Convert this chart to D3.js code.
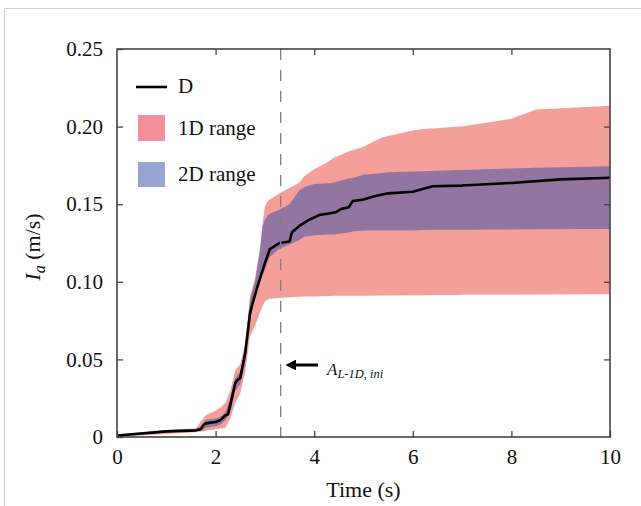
<!DOCTYPE html>
<html><head><meta charset="utf-8">
<script src="https://cdn.jsdelivr.net/npm/d3@7"></script>
<style>body{margin:0;background:#fff}svg{display:block}
svg text{font-family:"Liberation Serif","Times New Roman",Tinos,"DejaVu Serif",serif;}</style>
</head><body>
<svg id="c" width="641" height="506"></svg>
<script>
// ---- data ----
const xTicks = [0, 2, 4, 6, 8, 10];
const yTicks = [0, 0.05, 0.10, 0.15, 0.20, 0.25];
const yTickLabels = ["0", "0.05", "0.10", "0.15", "0.20", "0.25"];

const dTime = [0,1,1.6,1.7,1.75,1.8,2.0,2.1,2.2,2.25,2.3,2.4,2.45,2.5,2.6,2.7,2.75,2.85,3.0,3.1,3.3,3.5,3.55,3.7,3.9,4.1,4.3,4.45,4.55,4.7,4.78,5.0,5.2,5.5,6.0,6.4,7.0,8.0,9.0,10];
const dVal  = [0.001,0.0036,0.0043,0.005,0.0075,0.0088,0.0097,0.011,0.014,0.0145,0.021,0.035,0.037,0.038,0.054,0.080,0.086,0.097,0.112,0.121,0.125,0.126,0.132,0.136,0.140,0.143,0.144,0.145,0.147,0.148,0.152,0.153,0.155,0.157,0.158,0.1616,0.162,0.1637,0.166,0.167];

const rTime = [0,1,1.6,1.7,1.8,2.0,2.1,2.2,2.3,2.4,2.5,2.6,2.7,2.8,2.9,2.95,3.0,3.06,3.1,3.3,3.5,3.7,3.8,4.0,4.3,4.4,4.7,4.8,5.0,5.35,5.5,6.0,6.2,6.5,6.9,7.0,8.0,8.5,10];
// 1D range
const r1Lo = [0,0.002,0.003,0.0035,0.004,0.005,0.0055,0.006,0.012,0.022,0.028,0.042,0.065,0.0715,0.080,0.084,0.0875,0.0885,0.089,0.0895,0.090,0.0903,0.0905,0.0905,0.0908,0.091,0.091,0.091,0.091,0.0912,0.0912,0.0914,0.0914,0.0915,0.0915,0.0916,0.0917,0.0918,0.0919];
const r1Hi = [0.001,0.0045,0.0055,0.010,0.014,0.017,0.019,0.022,0.030,0.043,0.047,0.060,0.091,0.102,0.122,0.137,0.1487,0.152,0.153,0.157,0.1605,0.164,0.168,0.1725,0.1777,0.180,0.184,0.185,0.187,0.1927,0.194,0.1975,0.1985,0.199,0.200,0.200,0.205,0.211,0.2135];
// 2D range
const r2Lo = [0,0.003,0.0035,0.004,0.006,0.007,0.008,0.011,0.016,0.030,0.034,0.048,0.075,0.090,0.100,0.104,0.108,0.113,0.116,0.1215,0.124,0.127,0.129,0.130,0.1305,0.1305,0.1318,0.1326,0.133,0.133,0.133,0.133,0.1333,0.1335,0.1336,0.1336,0.1337,0.1338,0.134];
const r2Hi = [0.001,0.0045,0.005,0.007,0.011,0.012,0.013,0.016,0.025,0.038,0.042,0.058,0.089,0.100,0.120,0.135,0.140,0.143,0.144,0.1466,0.150,0.159,0.161,0.163,0.1635,0.164,0.1665,0.167,0.169,0.170,0.1706,0.171,0.1712,0.1715,0.172,0.172,0.173,0.1735,0.1745];

const markerTime = 3.32;

// ---- layout ----
const svg = d3.select("#c");
const L = 117, R = 610, T = 49, B = 437;
const x = d3.scaleLinear().domain([0, 10]).range([L, R]);
const y = d3.scaleLinear().domain([0, 0.25]).range([B, T]);

// outer light border
svg.append("line").attr("x1",4.5).attr("x2",641).attr("y1",8.5).attr("y2",8.5).attr("stroke","#d0d0d0");
svg.append("line").attr("x1",4.5).attr("x2",4.5).attr("y1",8.5).attr("y2",506).attr("stroke","#d0d0d0");

const defs = svg.append("defs");
defs.append("clipPath").attr("id","clip").append("rect").attr("x",L).attr("y",T).attr("width",R-L).attr("height",B-T);
const g = svg.append("g").attr("clip-path","url(#clip)");

const idx = d3.range(rTime.length);
const area1 = d3.area().x(i => x(rTime[i])).y0(i => y(r1Lo[i])).y1(i => y(r1Hi[i]));
const area2 = d3.area().x(i => x(rTime[i])).y0(i => y(r2Lo[i])).y1(i => y(r2Hi[i]));

const pink = "#f59f9a";
const blue = "rgb(50,76,168)";
g.append("path").attr("d", area1(idx)).attr("fill", pink);
g.append("path").attr("d", area2(idx)).attr("fill", blue).attr("fill-opacity", 0.5);

// dashed marker
svg.append("line").attr("x1", x(markerTime)).attr("x2", x(markerTime))
  .attr("y1", T).attr("y2", B).attr("stroke", "#808080").attr("stroke-width", 1.3)
  .attr("stroke-dasharray", "11,10");

// D line
const line = d3.line().x(i => x(dTime[i])).y(i => y(dVal[i]));
g.append("path").attr("d", line(d3.range(dTime.length))).attr("fill","none")
  .attr("stroke","#000").attr("stroke-width",2.6).attr("stroke-linejoin","round");

// axes (ticks inside)
const axStyle = sel => {
  sel.attr("font-family", null);
  sel.select(".domain").remove();
  sel.selectAll(".tick line").attr("stroke","#444").attr("stroke-width",1.3);
  sel.selectAll(".tick text").attr("font-size", 21).attr("fill","#111");
};
svg.append("g").attr("transform",`translate(0,${B})`)
  .call(d3.axisBottom(x).tickValues(xTicks).tickSize(-6).tickPadding(12).tickFormat(d3.format("d")))
  .call(axStyle);
svg.append("g").attr("transform",`translate(0,${T})`)
  .call(d3.axisTop(x).tickValues(xTicks.slice(1,-1)).tickSize(-6).tickFormat(""))
  .call(axStyle);
svg.append("g").attr("transform",`translate(${L},0)`)
  .call(d3.axisLeft(y).tickValues(yTicks).tickSize(-6).tickPadding(14).tickFormat((d,i) => yTickLabels[i]))
  .call(axStyle);
svg.append("g").attr("transform",`translate(${R},0)`)
  .call(d3.axisRight(y).tickValues(yTicks.slice(1,-1)).tickSize(-6).tickFormat(""))
  .call(axStyle);

// frame
svg.append("rect").attr("x",L).attr("y",T).attr("width",R-L).attr("height",B-T)
  .attr("fill","none").attr("stroke","#444").attr("stroke-width",1.6);

// axis titles
svg.append("text").attr("x",(L+R)/2).attr("y",497).attr("text-anchor","middle")
  .attr("font-size",22).attr("fill","#111").text("Time (s)");
const yl = svg.append("text").attr("transform",`translate(40,${(T+B)/2+4}) rotate(-90)`)
  .attr("text-anchor","middle").attr("font-size",22).attr("fill","#111");
yl.append("tspan").attr("font-style","italic").text("I");
yl.append("tspan").attr("font-style","italic").attr("font-size",16).attr("dy",5).text("a");
yl.append("tspan").attr("dy",-5).text(" (m/s)");

// legend
svg.append("line").attr("x1",136).attr("x2",167).attr("y1",87).attr("y2",87).attr("stroke","#000").attr("stroke-width",2.6);
svg.append("text").attr("x",178).attr("y",93).attr("font-size",21).attr("fill","#111").text("D");
svg.append("rect").attr("x",138).attr("y",115).attr("width",27).attr("height",26).attr("fill","#f4909a");
svg.append("text").attr("x",178).attr("y",135).attr("font-size",21).attr("fill","#111").text("1D range");
svg.append("rect").attr("x",138).attr("y",162).attr("width",27).attr("height",25).attr("fill",blue).attr("fill-opacity",0.5);
svg.append("text").attr("x",178).attr("y",181).attr("font-size",21).attr("fill","#111").text("2D range");

// annotation arrow
defs.append("marker").attr("id","ah").attr("viewBox","0 0 10 10").attr("refX",2).attr("refY",5)
  .attr("markerWidth",3.6).attr("markerHeight",3.6).attr("orient","auto")
  .append("path").attr("d","M0,0 L10,5 L0,10 Z").attr("fill","#000");
svg.append("line").attr("x1",318).attr("x2",294).attr("y1",365).attr("y2",365)
  .attr("stroke","#000").attr("stroke-width",3).attr("marker-end","url(#ah)");
const at = svg.append("text").attr("x",327).attr("y",375)
  .attr("font-style","italic").attr("font-size",17).attr("fill","#111");
at.append("tspan").text("A");
at.append("tspan").attr("font-size",12.5).attr("dy",3).text("L-1D, ini");
</script>
</body></html>
